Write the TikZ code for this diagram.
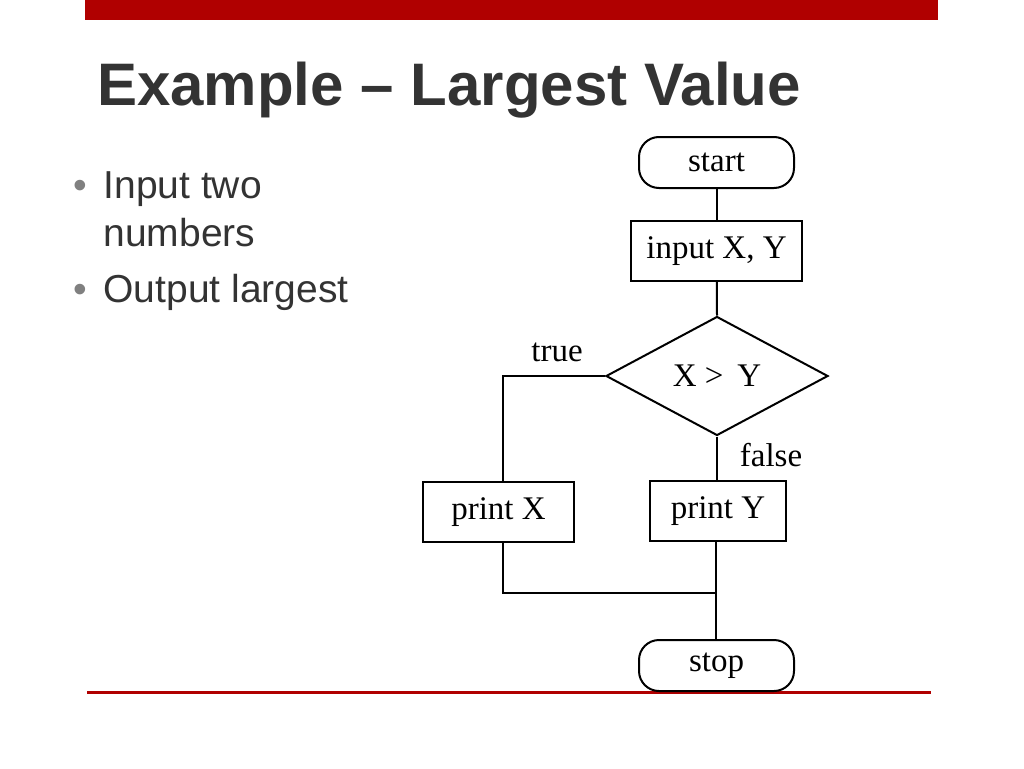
\documentclass[tikz,border=0pt]{standalone}
\usepackage{fontspec}
\setmainfont{Liberation Serif}
\newfontfamily\hd{Liberation Sans}
\usetikzlibrary{shapes.geometric}
\definecolor{barred}{HTML}{B00000}
\definecolor{ttl}{HTML}{333333}
\tikzset{
 fc/.style={draw,line width=2pt,inner sep=0pt,font=\fontsize{33}{34}\selectfont},
 term/.style={fc,rounded corners=20pt,minimum width=155pt,minimum height=51pt},
 box/.style={fc,minimum height=60pt},
 dia/.style={fc,diamond,aspect=1.87,minimum width=222pt,minimum height=119pt},
 ln/.style={line width=2pt},
 bul/.style={anchor=base west,font=\hd\fontsize{39}{42}\selectfont,text=ttl},
 lab/.style={font=\fontsize{33}{34}\selectfont}
}
\begin{document}
\begin{tikzpicture}[x=1pt,y=-1pt]
\useasboundingbox (0,0) rectangle (1024,768);
\fill[barred] (85,0) rectangle (938,20);
\draw[barred,line width=3pt] (87,692) -- (931,692);
\node[anchor=base west,inner sep=0pt,font=\hd\bfseries\fontsize{60}{60}\selectfont,text=ttl] (t) at (97,105) {Example \textendash{} Largest Value};
\node[bul,text=gray] (d1) at (70,198) {\textbullet};
\node[bul] (b1) at (100,198) {Input two};
\node[bul] (b1b) at (100,246) {numbers};
\node[bul,text=gray] (d2) at (70,302) {\textbullet};
\node[bul] (b2) at (100,302) {Output largest};
\node[term] (start) at (716.5,162.5) {start};
\node[box,minimum width=171pt] (in) at (716.5,251) {input X, Y};
\node[dia] (d) at (717,376) {X >\, Y};
\node[box,minimum width=151pt] (px) at (498.5,512) {print X};
\node[box,minimum width=136pt] (py) at (718,511) {print Y};
\node[term] (stop) at (716.5,665.5) {stop};
\coordinate (c1) at (503,376);
\coordinate (c2) at (503,593);
\coordinate (c3) at (716,593);
\draw[ln] (start) -- (in);
\draw[ln] (in) -- (d.north);
\draw[ln] (d.west) -- (c1) -- (px.north -| c1);
\draw[ln] (d.south) -- (py.north -| d.south);
\draw[ln] (px.south -| c1) -- (c2) -- (c3);
\draw[ln] (py.south -| c3) -- (stop.north -| c3);
\node[lab] (tl) at (557,352) {true};
\node[lab] (fl) at (771,455) {false};
\end{tikzpicture}
\end{document}
